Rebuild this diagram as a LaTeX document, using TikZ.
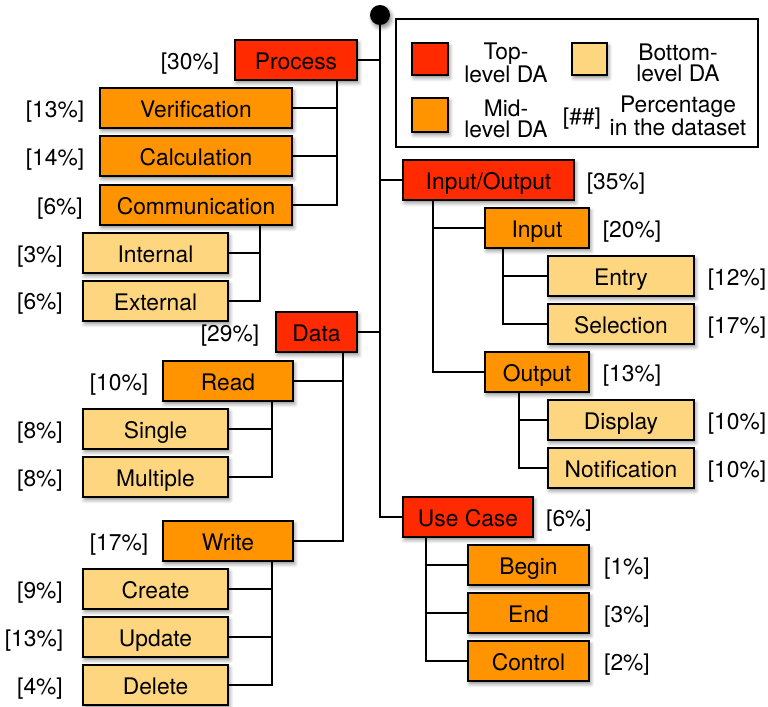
\documentclass[tikz,border=0pt]{standalone}
\usepackage{fontspec}
\setmainfont{TeX Gyre Heros}
\usetikzlibrary{shadows.blur}

\definecolor{toplvl}{RGB}{255,42,0}
\definecolor{midlvl}{RGB}{255,148,0}
\definecolor{botlvl}{RGB}{255,214,128}

\tikzset{
  dafont/.style={font=\fontsize{17.1}{15.5}\selectfont},
  dashadow/.style={blur shadow={shadow xshift=1.3pt, shadow yshift=-2.2pt,
      shadow blur radius=2.8pt, shadow opacity=45}},
  box/.style={draw=black, line width=1.6pt, inner sep=0pt, dafont,
      text height=13.5pt, text depth=0pt, dashadow},
  toplevel/.style={box, fill=toplvl},
  midlevel/.style={box, fill=midlvl},
  botlevel/.style={box, fill=botlvl},
  pct/.style={dafont, inner sep=0pt, text height=13.5pt, text depth=0pt},
  link/.style={draw=black, line width=1.5pt},
  trunk/.style={draw=black, line width=2pt},
  legendtext/.style={dafont, align=center, inner sep=0pt},
}

% box given by its corners (x1,y1) (x2,y2) in pixel units
\newcommand{\dabox}[7]{%
  \node[#2, minimum width={(#5-#3)*0.75pt}, minimum height={(#6-#4)*0.75pt}]
    (#1) at ({(#3+#5)/2},{(#4+#6)/2}) {#7};}

\begin{document}
\begin{tikzpicture}[x=0.75pt, y=-0.75pt]
\useasboundingbox (0,0) rectangle (768,707);

% ---- legend ----
\node[draw=black, line width=1.5pt, minimum width={362*0.75pt},
      minimum height={128*0.75pt}, inner sep=0pt] (legend) at (577,83) {};
\dabox{keytop}{toplevel}{412}{43}{448}{75}{}
\dabox{keymid}{midlevel}{412}{98}{448}{132}{}
\dabox{keybot}{botlevel}{572}{43}{607}{75}{}
\node[legendtext] (ltop) at (506,63) {Top-\\level DA};
\node[legendtext] (lmid) at (506,119) {Mid-\\level DA};
\node[legendtext] (lbot) at (678,63) {Bottom-\\level DA};
\node[legendtext] (lpct) at (678,116) {Percentage\\in the dataset};
\node[pct] (lhash) at (582,115) {[\#\#]};

% ---- root ----
\node[circle, fill=black, minimum size=15pt, inner sep=0pt, dashadow] (root) at (380,15) {};

% ---- Process branch ----
\dabox{process}{toplevel}{235}{40}{357}{80}{Process}
\dabox{verif}{midlevel}{100}{88}{292}{128}{Verification}
\dabox{calc}{midlevel}{100}{136}{292}{176}{Calculation}
\dabox{comm}{midlevel}{100}{185}{292}{225}{Communication}
\dabox{internal}{botlevel}{83}{233}{228}{273}{Internal}
\dabox{external}{botlevel}{83}{281}{228}{321}{External}

% ---- Data branch ----
\dabox{data}{toplevel}{276}{312}{357}{352}{Data}
\dabox{read}{midlevel}{163}{361}{293}{401}{Read}
\dabox{single}{botlevel}{83}{409}{228}{449}{Single}
\dabox{multiple}{botlevel}{83}{457}{228}{497}{Multiple}
\dabox{write}{midlevel}{163}{521}{293}{561}{Write}
\dabox{create}{botlevel}{83}{569}{228}{609}{Create}
\dabox{update}{botlevel}{83}{617}{228}{657}{Update}
\dabox{delete}{botlevel}{83}{665}{228}{705}{Delete}

% ---- Input/Output branch ----
\dabox{io}{toplevel}{403}{160}{574}{200}{Input/Output}
\dabox{input}{midlevel}{485}{208}{589}{248}{Input}
\dabox{entry}{botlevel}{548}{256}{694}{296}{Entry}
\dabox{selection}{botlevel}{548}{304}{694}{344}{Selection}
\dabox{output}{midlevel}{485}{352}{589}{392}{Output}
\dabox{display}{botlevel}{548}{400}{694}{440}{Display}
\dabox{notif}{botlevel}{548}{448}{694}{488}{Notification}

% ---- Use Case branch ----
\dabox{usecase}{toplevel}{403}{497}{533}{537}{Use Case}
\dabox{begin}{midlevel}{468}{545}{589}{585}{Begin}
\dabox{end}{midlevel}{468}{593}{589}{633}{End}
\dabox{control}{midlevel}{468}{641}{589}{681}{Control}

% ---- percentages ----
\node[pct] (p-process) at (190,60) {[30\%]};
\node[pct] (p-verif) at (55,108) {[13\%]};
\node[pct] (p-calc) at (55,156) {[14\%]};
\node[pct] (p-comm) at (60,205) {[6\%]};
\node[pct] (p-internal) at (40,253) {[3\%]};
\node[pct] (p-external) at (40,300) {[6\%]};
\node[pct] (p-data) at (230,332) {[29\%]};
\node[pct] (p-read) at (119,381) {[10\%]};
\node[pct] (p-single) at (40,429) {[8\%]};
\node[pct] (p-multiple) at (40,477) {[8\%]};
\node[pct] (p-write) at (119,541) {[17\%]};
\node[pct] (p-create) at (40,589) {[9\%]};
\node[pct] (p-update) at (34,637) {[13\%]};
\node[pct] (p-delete) at (40,685) {[4\%]};
\node[pct] (p-io) at (616,180) {[35\%]};
\node[pct] (p-input) at (632,228) {[20\%]};
\node[pct] (p-entry) at (737,276) {[12\%]};
\node[pct] (p-selection) at (737,324) {[17\%]};
\node[pct] (p-output) at (632,372) {[13\%]};
\node[pct] (p-display) at (737,420) {[10\%]};
\node[pct] (p-notif) at (737,468) {[10\%]};
\node[pct] (p-usecase) at (569,517) {[6\%]};
\node[pct] (p-begin) at (627,565) {[1\%]};
\node[pct] (p-end) at (627,613) {[3\%]};
\node[pct] (p-control) at (627,661) {[2\%]};

% ---- bus lines (x positions of the vertical connectors) ----
\coordinate (pbus) at (337,0);
\coordinate (cbus) at (260,0);
\coordinate (dbus) at (343,0);
\coordinate (rbus) at (272,0);
\coordinate (wbus) at (272,0);
\coordinate (iobus) at (433,0);
\coordinate (ibus) at (503,0);
\coordinate (obus) at (519,0);
\coordinate (ubus) at (426,0);

% ---- connectors ----
\path[trunk] (root.center) |- (usecase.west);
\path[link] (process.east) -- (process.east -| root);
\path[link] (root |- io.west) -- (io.west);
\path[link] (data.east) -- (data.east -| root);

\path[link] (process.south -| pbus) |- (comm.east);
\path[link] (verif.east) -- (verif.east -| pbus);
\path[link] (calc.east) -- (calc.east -| pbus);

\path[link] (comm.south -| cbus) |- (external.east);
\path[link] (internal.east) -- (internal.east -| cbus);

\path[link] (data.south -| dbus) |- (write.east);
\path[link] (read.east) -- (read.east -| dbus);

\path[link] (read.south -| rbus) |- (multiple.east);
\path[link] (single.east) -- (single.east -| rbus);

\path[link] (write.south -| wbus) |- (delete.east);
\path[link] (create.east) -- (create.east -| wbus);
\path[link] (update.east) -- (update.east -| wbus);

\path[link] (io.south -| iobus) |- (output.west);
\path[link] (input.west) -- (input.west -| iobus);

\path[link] (input.south -| ibus) |- (selection.west);
\path[link] (entry.west) -- (entry.west -| ibus);

\path[link] (output.south -| obus) |- (notif.west);
\path[link] (display.west) -- (display.west -| obus);

\path[link] (usecase.south -| ubus) |- (control.west);
\path[link] (begin.west) -- (begin.west -| ubus);
\path[link] (end.west) -- (end.west -| ubus);
\end{tikzpicture}
\end{document}
